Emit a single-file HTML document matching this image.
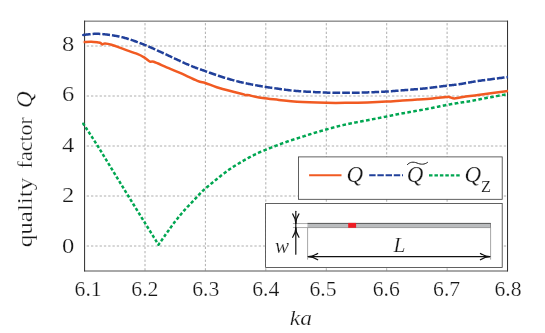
<!DOCTYPE html>
<html><head><meta charset="utf-8"><title>Q</title>
<style>
html,body{margin:0;padding:0;background:#fff;}
svg{display:block;will-change:transform;}
text{font-family:"Liberation Serif",serif;font-size:20.5px;fill:#161616;stroke:#fff;stroke-width:0.24px;}
.it{font-style:italic;}
</style></head><body>
<svg width="545" height="333" viewBox="0 0 545 333">
<rect width="545" height="333" fill="#fff"/>
<g stroke="#999" stroke-width="0.8" stroke-dasharray="2.3,2.0" stroke-dashoffset="2.2" fill="none"><line x1="145.0" y1="21.0" x2="145.0" y2="271.0"/><line x1="205.4" y1="21.0" x2="205.4" y2="271.0"/><line x1="265.8" y1="21.0" x2="265.8" y2="271.0"/><line x1="326.3" y1="21.0" x2="326.3" y2="271.0"/><line x1="386.7" y1="21.0" x2="386.7" y2="271.0"/><line x1="447.1" y1="21.0" x2="447.1" y2="271.0"/><line x1="84.6" y1="46.0" x2="507.5" y2="46.0"/><line x1="84.6" y1="96.0" x2="507.5" y2="96.0"/><line x1="84.6" y1="146.0" x2="507.5" y2="146.0"/><line x1="84.6" y1="196.0" x2="507.5" y2="196.0"/><line x1="84.6" y1="246.0" x2="507.5" y2="246.0"/></g>
<!-- frame -->
<line x1="84.1" y1="21.15" x2="508" y2="21.15" stroke="#333" stroke-width="0.8"/>
<line x1="84.1" y1="271" x2="508" y2="271" stroke="#333" stroke-width="0.85"/>
<line x1="84.6" y1="20.7" x2="84.6" y2="271.4" stroke="#2a2a2a" stroke-width="1"/>
<line x1="507.55" y1="20.7" x2="507.55" y2="271.4" stroke="#2a2a2a" stroke-width="1"/>
<g fill="none" stroke-linejoin="round">
<path d="M83.80,124.50L83.81,124.51L83.79,124.49L83.77,124.45L83.73,124.40L83.69,124.33L83.63,124.25L83.58,124.16L83.52,124.07L83.46,123.98L83.41,123.90L83.36,123.83L83.32,123.78L83.30,123.74L83.29,123.72L83.29,123.73L83.31,123.76L83.36,123.83L83.43,123.94L83.53,124.09L83.65,124.29L83.81,124.53L84.00,124.83L84.23,125.18L84.50,125.60L84.50,125.60M85.65,127.36L85.95,127.83L86.40,128.51L86.87,129.24L87.37,130.00L87.40,130.04M88.55,131.79L89.01,132.50L89.59,133.39L90.19,134.31L90.30,134.47M91.44,136.23L92.05,137.16L92.68,138.14L93.18,138.91M94.31,140.68L94.60,141.12L95.23,142.11L95.86,143.10L96.04,143.37M97.16,145.14L97.70,146.00L98.30,146.95L98.85,147.84M99.95,149.62L100.13,149.90L100.75,150.91L101.38,151.93L101.63,152.33M102.72,154.11L103.28,155.04L103.93,156.09L104.38,156.83M105.46,158.61L105.87,159.28L106.52,160.35L107.12,161.33M108.20,163.12L108.47,163.57L109.13,164.64L109.78,165.71L109.85,165.84M110.94,167.62L111.07,167.84L111.72,168.90L112.36,169.95L112.60,170.34M113.69,172.12L114.28,173.08L114.91,174.13L115.35,174.84M116.44,176.62L116.83,177.26L117.47,178.30L118.10,179.34M119.19,181.12L119.38,181.44L120.02,182.48L120.66,183.53L120.85,183.84M121.94,185.62L122.57,186.65L123.21,187.70L123.60,188.34M124.69,190.12L125.12,190.82L125.76,191.86L126.36,192.84M127.45,194.62L127.66,194.97L128.30,196.00L128.94,197.03L129.12,197.33M130.22,199.11L130.84,200.13L131.48,201.16L131.89,201.83M132.99,203.60L133.38,204.24L134.02,205.27L134.65,206.30L134.66,206.32M135.76,208.09L135.92,208.35L136.55,209.37L137.19,210.40L137.44,210.80M138.54,212.58L139.08,213.47L139.72,214.49L140.21,215.29M141.32,217.07L141.61,217.55L142.24,218.57L142.87,219.58L142.99,219.78M144.09,221.56L144.14,221.64L144.80,222.71L145.49,223.81L145.77,224.27M146.87,226.05L146.90,226.08L147.62,227.25L148.34,228.42L148.55,228.76M149.65,230.53L149.80,230.77L150.52,231.94L151.24,233.10L151.33,233.24M152.43,235.02L152.64,235.36L153.32,236.45L153.98,237.52L154.12,237.73M155.22,239.51L155.23,239.52L155.81,240.46L156.36,241.35L156.87,242.17L156.90,242.22M158.00,243.99L158.16,244.26L158.50,244.80L158.64,244.60L158.79,244.38L158.96,244.14L159.15,243.87L159.34,243.59L159.55,243.29L159.77,242.97L159.79,242.95M160.99,241.22L161.04,241.14L161.33,240.74L161.61,240.32L161.91,239.90L162.21,239.47L162.52,239.03L162.83,238.58M164.05,236.86L164.14,236.74L164.47,236.27L164.80,235.80L165.14,235.32L165.49,234.83L165.85,234.32L165.91,234.23M167.12,232.51L167.38,232.14L167.78,231.57L168.18,231.00L168.60,230.41L168.98,229.87M170.20,228.15L170.28,228.04L170.71,227.44L171.13,226.85L171.56,226.26L171.99,225.67L172.08,225.54M173.34,223.84L173.68,223.38L174.09,222.84L174.50,222.30L174.91,221.77L175.30,221.26M176.62,219.59L176.94,219.18L177.35,218.67L177.76,218.16L178.17,217.65L178.58,217.15L178.66,217.05M180.02,215.41L180.21,215.17L180.62,214.68L181.03,214.20L181.44,213.71L181.85,213.23L182.12,212.91M183.52,211.29L183.89,210.87L184.30,210.40L184.71,209.94L185.13,209.47L185.55,209.01L185.70,208.84M187.17,207.25L187.25,207.16L187.69,206.70L188.12,206.25L188.55,205.79L188.97,205.34L189.40,204.90L189.44,204.86M190.94,203.30L191.07,203.17L191.48,202.75L191.88,202.33L192.27,201.93L192.65,201.53L193.03,201.13L193.23,200.92M194.71,199.35L194.77,199.28L195.09,198.94L195.41,198.59L195.72,198.26L196.02,197.93L196.32,197.61L196.61,197.29L196.89,196.98L196.94,196.93M198.39,195.34L198.50,195.22L198.76,194.94L199.01,194.67L199.26,194.41L199.50,194.15L199.75,193.89L199.99,193.64L200.23,193.39L200.46,193.14L200.66,192.94M202.19,191.41L202.28,191.32L202.45,191.15L202.62,190.99L202.79,190.83L202.96,190.68L203.13,190.52L203.30,190.36L203.47,190.20L203.65,190.04L203.84,189.87L204.03,189.70L204.23,189.52L204.44,189.34L204.65,189.15M206.32,187.71L206.55,187.52L206.85,187.26L207.17,187.00L207.49,186.73L207.82,186.45L208.16,186.17L208.50,185.89L208.84,185.61L208.91,185.55M210.62,184.15L210.62,184.15L210.98,183.85L211.35,183.56L211.71,183.26L212.07,182.97L212.43,182.67L212.79,182.38L213.15,182.09L213.23,182.02M214.95,180.62L215.29,180.34L215.65,180.04L216.02,179.74L216.38,179.44L216.75,179.14L217.12,178.84L217.49,178.54L217.56,178.48M219.28,177.09L219.34,177.04L219.71,176.74L220.08,176.44L220.45,176.15L220.83,175.85L221.20,175.56L221.56,175.27L221.93,174.98L221.93,174.98M223.69,173.62L223.76,173.57L224.12,173.29L224.49,173.02L224.85,172.74L225.21,172.46L225.57,172.19L225.94,171.91L226.30,171.64L226.40,171.57M228.19,170.24L228.49,170.03L228.86,169.76L229.23,169.50L229.60,169.24L229.97,168.97L230.35,168.72L230.72,168.46L230.99,168.27M232.87,167.03L233.03,166.93L233.42,166.68L233.82,166.43L234.21,166.19L234.61,165.94L235.00,165.69L235.40,165.45L235.80,165.21L235.80,165.21M237.75,164.03L237.78,164.01L238.18,163.78L238.57,163.54L238.96,163.31L239.35,163.08L239.74,162.85L240.12,162.63L240.50,162.40L240.73,162.26M242.69,161.11L242.73,161.09L243.09,160.87L243.46,160.66L243.82,160.45L244.18,160.24L244.54,160.04L244.90,159.83L245.26,159.63L245.62,159.42L245.70,159.38M247.70,158.27L247.81,158.21L248.18,158.01L248.55,157.80L248.92,157.60L249.30,157.40L249.68,157.20L250.07,156.99L250.46,156.79L250.78,156.62M252.82,155.57L252.89,155.54L253.30,155.33L253.70,155.12L254.11,154.92L254.52,154.72L254.92,154.52L255.32,154.32L255.72,154.12L255.96,154.01M258.04,153.01L258.35,152.86L258.70,152.70L259.03,152.55L259.35,152.40L259.66,152.26L259.95,152.13L260.24,152.01L260.52,151.89L260.78,151.77L261.05,151.66L261.27,151.57M263.43,150.70L263.70,150.60L264.00,150.48L264.31,150.36L264.63,150.23L264.97,150.09L265.33,149.95L265.70,149.80L266.09,149.64L266.50,149.48L266.73,149.39M268.89,148.52L269.19,148.40L269.67,148.21L270.16,148.01L270.65,147.82L271.15,147.62L271.65,147.42L272.16,147.22L272.20,147.20M274.37,146.35L274.68,146.23L275.17,146.04L275.66,145.85L276.15,145.66L276.63,145.48L277.10,145.30L277.57,145.12L277.69,145.08M279.88,144.25L280.31,144.09L280.76,143.92L281.21,143.75L281.67,143.59L282.12,143.42L282.57,143.26L283.02,143.09L283.23,143.02M285.43,142.23L285.76,142.11L286.22,141.95L286.68,141.79L287.15,141.62L287.62,141.46L288.10,141.30L288.58,141.14L288.81,141.06M291.04,140.33L291.48,140.19L291.97,140.03L292.46,139.87L292.95,139.72L293.44,139.56L293.94,139.41L294.43,139.25L294.46,139.24M296.71,138.54L296.94,138.47L297.45,138.31L297.95,138.15L298.46,137.99L298.97,137.83L299.49,137.66L300.00,137.50L300.13,137.46M302.37,136.73L302.59,136.66L303.11,136.49L303.64,136.32L304.16,136.15L304.69,135.98L305.22,135.81L305.75,135.64L305.78,135.62M308.02,134.90L308.43,134.77L308.97,134.60L309.51,134.43L310.05,134.25L310.60,134.08L311.15,133.91L311.44,133.82M313.69,133.13L313.91,133.06L314.48,132.89L315.04,132.72L315.61,132.55L316.18,132.39L316.75,132.22L317.14,132.10M319.41,131.44L319.64,131.38L320.22,131.21L320.80,131.04L321.38,130.87L321.96,130.71L322.54,130.54L322.87,130.45M325.14,129.81L325.45,129.72L326.02,129.56L326.60,129.40L327.17,129.24L327.75,129.08L328.32,128.92L328.61,128.84M330.88,128.20L331.17,128.12L331.74,127.96L332.31,127.81L332.88,127.65L333.45,127.49L334.02,127.34L334.36,127.25M336.65,126.64L336.89,126.58L337.47,126.43L338.05,126.28L338.64,126.13L339.22,125.99L339.81,125.84L340.15,125.76M342.46,125.22L342.79,125.15L343.39,125.01L343.99,124.88L344.60,124.74L345.20,124.61L345.81,124.48L346.00,124.44M348.33,123.95L348.87,123.84L349.48,123.71L350.10,123.59L350.71,123.46L351.32,123.34L351.88,123.23M354.22,122.76L354.39,122.72L355.00,122.60L355.61,122.48L356.21,122.36L356.82,122.24L357.42,122.12L357.78,122.05M360.12,121.61L360.41,121.55L361.01,121.44L361.61,121.32L362.21,121.21L362.81,121.10L363.41,120.99L363.69,120.94M366.03,120.50L366.49,120.41L367.12,120.29L367.76,120.17L368.40,120.05L369.05,119.93L369.60,119.82M371.93,119.37L372.43,119.27L373.14,119.13L373.85,119.00L374.57,118.86L375.30,118.71L375.50,118.68M377.84,118.22L378.23,118.14L378.96,118.00L379.70,117.86L380.42,117.72L381.14,117.57L381.40,117.52M383.74,117.07L383.96,117.02L384.64,116.89L385.31,116.76L385.96,116.63L386.60,116.50L387.22,116.38L387.30,116.36M389.63,115.89L389.92,115.83L390.41,115.72L390.90,115.62L391.37,115.52L391.84,115.42L392.32,115.32L392.79,115.22L393.18,115.14M395.51,114.67L395.92,114.59L396.51,114.47L397.14,114.35L397.79,114.22L398.49,114.09L399.07,113.97M401.42,113.54L401.68,113.49L402.59,113.32L403.52,113.15L404.49,112.98L404.99,112.89M407.34,112.47L407.56,112.43L408.63,112.24L409.72,112.05L410.81,111.86L410.92,111.84M413.27,111.43L414.17,111.27L415.29,111.07L416.41,110.87L416.85,110.79M419.19,110.37L419.75,110.27L420.84,110.07L421.91,109.87L422.77,109.72M425.11,109.28L426.00,109.11L427.00,108.92L428.01,108.72L428.68,108.59M431.01,108.13L431.06,108.12L432.07,107.92L433.09,107.71L434.10,107.51L434.57,107.41M436.90,106.94L437.09,106.90L438.06,106.70L439.03,106.50L439.98,106.31L440.46,106.21M442.79,105.74L443.60,105.58L444.45,105.41L445.28,105.25L446.08,105.09L446.35,105.04M448.69,104.60L449.00,104.54L449.65,104.42L450.28,104.30L450.89,104.20L451.47,104.09L452.04,103.99L452.27,103.95M454.62,103.56L455.06,103.49L455.52,103.41L455.97,103.34L456.42,103.27L456.87,103.20L457.31,103.13L457.75,103.06L458.19,102.99L458.21,102.98M460.57,102.61L460.92,102.55L461.38,102.48L461.83,102.42L462.27,102.35L462.71,102.29L463.15,102.22L463.58,102.16L464.01,102.10L464.18,102.07M466.54,101.74L466.90,101.69L467.29,101.63L467.69,101.57L468.08,101.51L468.47,101.45L468.86,101.39L469.24,101.33L469.62,101.26L470.00,101.20L470.14,101.18M472.48,100.73L472.60,100.70L472.81,100.66L473.03,100.61L473.28,100.56L473.55,100.50L473.86,100.43L474.20,100.36L474.59,100.28L475.02,100.20L475.51,100.10L476.03,100.00M478.37,99.55L478.95,99.44L479.92,99.26L481.00,99.05L481.94,98.88M484.28,98.44L484.74,98.35L486.13,98.09L487.56,97.82L487.85,97.77M490.19,97.33L490.53,97.27L492.04,96.98L493.56,96.70L493.76,96.66M496.11,96.22L496.56,96.14L498.02,95.87L499.44,95.60L499.68,95.56M502.02,95.12L502.12,95.10L503.35,94.87L504.49,94.66L505.54,94.46L505.59,94.45M507.93,94.01L508.00,94.00" stroke="#00A651" stroke-width="2.5"/>
<path d="M83.60,42.00 C83.75,42.00 83.22,42.05 84.50,42.00 C85.78,41.95 89.05,41.63 91.30,41.70 C93.55,41.77 96.47,42.20 98.00,42.40 C99.53,42.60 99.78,42.57 100.50,42.90 C101.22,43.23 101.55,44.30 102.30,44.40 C103.05,44.50 103.47,43.43 105.00,43.50 C106.53,43.57 108.27,43.82 111.50,44.80 C114.73,45.78 120.12,47.88 124.40,49.40 C128.68,50.92 133.85,52.53 137.20,53.90 C140.55,55.27 142.37,56.32 144.50,57.60 C146.63,58.88 148.47,60.90 150.00,61.60 C151.53,62.30 150.93,60.85 153.70,61.80 C156.47,62.75 162.22,65.45 166.60,67.30 C170.98,69.15 174.87,70.65 180.00,72.90 C185.13,75.15 193.18,79.12 197.40,80.80 C201.62,82.48 202.08,81.93 205.30,83.00 C208.52,84.07 212.35,85.82 216.70,87.20 C221.05,88.58 227.02,90.15 231.40,91.30 C235.78,92.45 240.70,93.45 243.00,94.10 C245.30,94.75 244.45,95.03 245.20,95.20 C245.95,95.37 244.60,94.62 247.50,95.10 C250.40,95.58 257.35,97.30 262.60,98.10 C267.85,98.90 273.27,99.28 279.00,99.90 C284.73,100.52 289.08,101.32 297.00,101.80 C304.92,102.28 318.05,102.63 326.50,102.80 C334.95,102.97 340.87,102.87 347.70,102.80 C354.53,102.73 361.03,102.60 367.50,102.40 C373.97,102.20 380.67,101.92 386.50,101.60 C392.33,101.28 397.33,100.83 402.50,100.50 C407.67,100.17 412.48,99.93 417.50,99.60 C422.52,99.27 427.83,98.93 432.60,98.50 C437.37,98.07 443.35,97.25 446.10,97.00 C448.85,96.75 447.73,96.77 449.10,97.00 C450.47,97.23 452.48,98.33 454.30,98.40 C456.12,98.47 457.38,97.82 460.00,97.40 C462.62,96.98 466.98,96.30 470.00,95.90 C473.02,95.50 471.77,95.82 478.10,95.00 C484.43,94.18 503.02,91.67 508.00,91.00" stroke="#F15A22" stroke-width="2.5"/>
<path d="M83.60,34.90L83.61,34.90L83.61,34.90L83.59,34.90L83.57,34.90L83.53,34.90L83.49,34.90L83.45,34.91L83.41,34.91L83.37,34.91L83.33,34.91L83.30,34.91L83.28,34.91L83.27,34.91L83.27,34.91L83.29,34.91L83.32,34.90L83.38,34.90L83.45,34.89L83.55,34.88L83.68,34.87L83.84,34.86L84.02,34.84L84.24,34.82L84.50,34.80L84.79,34.77L85.12,34.74L85.48,34.70L85.86,34.66L86.28,34.61L86.72,34.56L87.18,34.50L87.67,34.44L88.17,34.39L88.70,34.33L89.23,34.27L89.79,34.21L90.35,34.15L90.60,34.12M92.59,33.95L92.69,33.94L93.29,33.90L93.88,33.87L94.48,33.84L95.07,33.82L95.65,33.80L96.23,33.80L96.80,33.80L97.37,33.81L97.94,33.83L98.52,33.85L99.11,33.87L99.71,33.91L100.31,33.94L100.32,33.94M102.31,34.09L102.75,34.13L103.38,34.18L104.00,34.24L104.63,34.31L105.25,34.37L105.88,34.45L106.51,34.52L107.14,34.59L107.77,34.67L108.40,34.76L109.02,34.84L109.65,34.93L109.98,34.97M111.95,35.27L112.11,35.29L112.71,35.39L113.31,35.48L113.91,35.58L114.50,35.68L115.09,35.78L115.68,35.88L116.27,35.98L116.85,36.09L117.44,36.20L118.03,36.31L118.63,36.43L119.22,36.55L119.52,36.62M121.45,37.05L121.65,37.10L122.27,37.25L122.90,37.40L123.54,37.57L124.19,37.74L124.85,37.92L125.52,38.10L126.20,38.30L126.89,38.50L127.60,38.72L128.31,38.94L128.79,39.09M130.66,39.69L131.27,39.90L132.03,40.15L132.79,40.41L133.56,40.68L134.34,40.95L135.12,41.23L135.90,41.51L136.69,41.80L137.47,42.09L137.79,42.21M139.62,42.89L139.83,42.98L140.62,43.28L141.40,43.58L142.18,43.88L142.96,44.19L143.73,44.49L144.50,44.80L145.27,45.11L146.03,45.42L146.61,45.66M148.39,46.42L149.12,46.74L149.90,47.07L150.67,47.41L151.45,47.76L152.23,48.11L153.00,48.46L153.78,48.81L154.55,49.16L155.22,49.46M156.97,50.27L157.63,50.57L158.39,50.92L159.15,51.28L159.91,51.63L160.66,51.97L161.41,52.32L162.16,52.66L162.90,53.00L163.64,53.34L163.75,53.39M165.50,54.20L165.88,54.37L166.62,54.72L167.37,55.07L168.11,55.42L168.86,55.77L169.60,56.12L170.33,56.47L171.07,56.82L171.80,57.16L172.24,57.37M173.98,58.20L174.67,58.52L175.37,58.85L176.06,59.17L176.74,59.49L177.41,59.81L178.08,60.12L178.73,60.42L179.37,60.71L180.00,61.00L180.62,61.28L180.74,61.34M182.50,62.14L182.95,62.34L183.51,62.59L184.06,62.84L184.60,63.09L185.13,63.32L185.65,63.56L186.17,63.79L186.69,64.02L187.20,64.24L187.71,64.47L188.21,64.69L188.71,64.90L189.22,65.12L189.33,65.17M191.12,65.92L191.24,65.97L191.76,66.18L192.28,66.39L192.80,66.60L193.32,66.81L193.84,67.01L194.35,67.21L194.85,67.40L195.35,67.59L195.84,67.77L196.34,67.95L196.83,68.13L197.32,68.31L197.81,68.48L198.16,68.61M200.00,69.25L200.30,69.36L200.82,69.54L201.34,69.72L201.87,69.90L202.41,70.09L202.97,70.28L203.53,70.48L204.11,70.68L204.70,70.89L205.30,71.10L205.92,71.32L206.55,71.55L207.14,71.76M208.98,72.42L209.18,72.50L209.87,72.74L210.56,72.99L211.25,73.25L211.96,73.50L212.67,73.76L213.39,74.01L214.11,74.27L214.84,74.53L215.57,74.78L216.09,74.97M217.94,75.60L218.51,75.80L219.25,76.05L219.99,76.29L220.73,76.53L221.47,76.77L222.20,77.00L222.94,77.23L223.68,77.46L224.42,77.69L225.17,77.91M227.05,78.48L227.43,78.59L228.19,78.81L228.96,79.03L229.72,79.25L230.49,79.47L231.26,79.69L232.03,79.90L232.80,80.11L233.57,80.33L234.34,80.53L234.38,80.54M236.30,81.05L236.66,81.14L237.43,81.34L238.20,81.53L238.97,81.73L239.73,81.91L240.50,82.10L241.26,82.28L242.03,82.46L242.80,82.64L243.56,82.81L243.73,82.84M245.67,83.27L245.86,83.31L246.63,83.47L247.40,83.63L248.16,83.79L248.93,83.94L249.70,84.09L250.47,84.24L251.24,84.39L252.00,84.54L252.77,84.69L253.20,84.76M255.15,85.13L255.84,85.25L256.60,85.39L257.37,85.53L258.14,85.66L258.90,85.80L259.66,85.93L260.42,86.07L261.18,86.20L261.94,86.32L262.69,86.45L262.73,86.45M264.69,86.77L264.95,86.81L265.70,86.93L266.46,87.05L267.21,87.17L267.96,87.28L268.72,87.39L269.47,87.51L270.23,87.62L270.99,87.73L271.76,87.84L272.31,87.92M274.29,88.20L274.84,88.28L275.62,88.38L276.41,88.49L277.20,88.60L277.99,88.71L278.77,88.82L279.54,88.92L280.30,89.03L281.06,89.14L281.82,89.25L281.92,89.26M283.90,89.54L284.09,89.56L284.85,89.67L285.62,89.77L286.40,89.88L287.19,89.98L287.99,90.08L288.80,90.18L289.63,90.27L290.47,90.37L291.33,90.47L291.55,90.49M293.54,90.69L294.05,90.74L295.01,90.83L295.99,90.92L297.00,91.00L298.05,91.08L299.15,91.17L300.28,91.25L301.24,91.31M303.24,91.45L303.89,91.49L305.14,91.57L306.42,91.64L307.72,91.72L309.02,91.79L310.34,91.87L310.96,91.90M312.96,92.01L312.99,92.01L314.31,92.07L315.62,92.14L316.92,92.20L318.21,92.26L319.48,92.32L320.69,92.37M322.69,92.45L323.14,92.47L324.30,92.52L325.42,92.56L326.50,92.60L327.54,92.64L328.56,92.67L329.56,92.70L330.42,92.72M332.43,92.76L333.33,92.78L334.23,92.79L335.12,92.80L335.99,92.81L336.85,92.82L337.71,92.82L338.55,92.83L339.39,92.83L340.17,92.83M342.17,92.83L342.69,92.82L343.52,92.82L344.34,92.82L345.17,92.81L346.01,92.81L346.85,92.80L347.70,92.80L348.55,92.80L349.40,92.79L349.91,92.78M351.91,92.76L351.92,92.76L352.76,92.75L353.59,92.74L354.42,92.73L355.25,92.72L356.07,92.70L356.89,92.69L357.71,92.67L358.53,92.65L359.35,92.63L359.65,92.63M361.66,92.57L361.80,92.57L362.61,92.55L363.43,92.53L364.24,92.50L365.05,92.48L365.87,92.45L366.68,92.43L367.50,92.40L368.32,92.37L369.14,92.34L369.39,92.33M371.39,92.26L371.63,92.25L372.47,92.22L373.30,92.18L374.14,92.15L374.97,92.11L375.80,92.08L376.63,92.04L377.46,92.00L378.29,91.96L379.11,91.92L379.12,91.92M381.12,91.82L381.53,91.80L382.33,91.76L383.11,91.72L383.89,91.67L384.66,91.63L385.42,91.59L386.16,91.54L386.90,91.50L387.62,91.46L388.31,91.41L388.84,91.38M390.84,91.24L390.91,91.24L391.52,91.19L392.13,91.15L392.73,91.10L393.32,91.06L393.91,91.01L394.51,90.96L395.10,90.91L395.70,90.86L396.31,90.81L396.93,90.76L397.56,90.71L398.20,90.66L398.55,90.63M400.54,90.46L400.97,90.43L401.72,90.36L402.50,90.30L403.31,90.23L404.13,90.17L404.98,90.10L405.85,90.03L406.74,89.97L407.64,89.90L408.24,89.85M410.24,89.69L410.43,89.68L411.38,89.60L412.34,89.53L413.31,89.45L414.29,89.37L415.27,89.29L416.25,89.21L417.24,89.13L417.94,89.07M419.94,88.89L420.19,88.87L421.16,88.78L422.14,88.69L423.10,88.59L424.05,88.50L425.00,88.40L425.95,88.30L426.91,88.19L427.62,88.11M429.60,87.89L429.88,87.85L430.88,87.73L431.89,87.61L432.90,87.49L433.92,87.36L434.93,87.23L435.93,87.10L436.93,86.98L437.26,86.93M439.24,86.68L439.87,86.59L440.82,86.47L441.75,86.35L442.66,86.23L443.56,86.11L444.42,86.00L445.26,85.89L446.07,85.79L446.85,85.69L446.89,85.69M448.87,85.45L448.97,85.43L449.60,85.36L450.19,85.29L450.75,85.23L451.28,85.17L451.79,85.12L452.28,85.06L452.75,85.01L453.20,84.96L453.64,84.92L454.08,84.87L454.51,84.82L454.95,84.77L455.38,84.72L455.82,84.67L456.27,84.62L456.54,84.58M458.52,84.32L458.80,84.28L459.38,84.19L460.00,84.10L460.64,84.00L461.27,83.90L461.91,83.80L462.55,83.69L463.20,83.57L463.85,83.46L464.51,83.34L465.17,83.22L465.85,83.09L466.11,83.05M468.06,82.69L468.69,82.57L469.43,82.44L470.20,82.30L470.98,82.16L471.79,82.02L472.61,81.88L473.46,81.73L474.33,81.59L475.23,81.44L475.64,81.38M477.61,81.07L478.10,81.00L479.14,80.85L480.27,80.69L481.48,80.52L482.75,80.34L484.07,80.16L485.25,80.00M487.22,79.73L488.30,79.59L489.76,79.39L491.24,79.19L492.71,79.00L494.18,78.81L494.87,78.72M496.85,78.46L497.06,78.43L498.46,78.25L499.81,78.07L501.11,77.90L502.35,77.74L503.52,77.59L504.49,77.46M506.47,77.20L506.52,77.20L507.32,77.09L508.00,77.00" stroke="#21409A" stroke-width="2.5"/>
</g>
<!-- legend -->
<rect x="298.5" y="156.9" width="203.7" height="42.4" fill="#fff" stroke="#3a3a3a" stroke-width="0.8"/>
<line x1="309.1" y1="175.2" x2="341.5" y2="175.2" stroke="#F15A22" stroke-width="2.1"/>
<text class="it" x="346.6" y="182.3" style="font-size:23px">Q</text>
<line x1="369.2" y1="175.2" x2="403.0" y2="175.2" stroke="#21409A" stroke-width="2.1" stroke-dasharray="6.4,1.8"/>
<text class="it" x="406.8" y="182.3" style="font-size:23px">Q</text>
<path d="M407.2,164.9 C409.5,161.9 413.5,161.6 417,163 C421,164.7 424.5,164.7 427.8,162.2" fill="none" stroke="#1a1a1a" stroke-width="1"/>
<line x1="429.0" y1="175.3" x2="460.3" y2="175.3" stroke="#00A651" stroke-width="2.15" stroke-dasharray="3.5,1.94"/>
<text class="it" x="464.6" y="182.3" style="font-size:23px">Q</text>
<text x="481" y="191.9" style="font-size:16.4px;stroke-width:0.15px">Z</text>
<!-- inset -->
<rect x="265.6" y="203.4" width="236.6" height="64" fill="#fff" stroke="#3a3a3a" stroke-width="0.8"/>
<g stroke="#5a5a5a" stroke-width="0.5" fill="none">
<line x1="292.9" y1="223.55" x2="307.6" y2="223.55"/><line x1="292.9" y1="227.55" x2="307.6" y2="227.55"/>
<line x1="307.6" y1="227.5" x2="307.6" y2="259.6" stroke="#6a6a6a" stroke-width="0.6"/><line x1="490.6" y1="227.5" x2="490.6" y2="259.6" stroke="#6a6a6a" stroke-width="0.6"/>
</g>
<rect x="307.4" y="223.0" width="183.2" height="4.7" fill="#babcbe"/>
<line x1="490.5" y1="223" x2="490.5" y2="227.7" stroke="#555" stroke-width="0.6"/>
<line x1="307.4" y1="223.4" x2="490.6" y2="223.4" stroke="#4a4a4a" stroke-width="0.9"/>
<line x1="307.4" y1="227.6" x2="490.6" y2="227.6" stroke="#777" stroke-width="0.6"/>
<rect x="348.2" y="222.9" width="7.9" height="4.9" fill="#ed1c24"/>
<g stroke="#111" stroke-width="1.2" fill="none" stroke-linecap="round" stroke-linejoin="round">
<line x1="295.8" y1="211.3" x2="295.8" y2="254.2"/>
<path d="M295.80,223.30 C295.80,220.10 294.50,216.80 292.65,213.90"/><path d="M295.80,223.30 C295.80,220.10 297.10,216.80 298.95,213.90"/>
<path d="M295.80,227.90 C295.80,231.10 297.10,234.40 298.95,237.30"/><path d="M295.80,227.90 C295.80,231.10 294.50,234.40 292.65,237.30"/>
<line x1="308.8" y1="256.6" x2="489.3" y2="256.6"/>
<path d="M308.30,256.60 C311.50,256.60 314.80,255.30 317.70,253.45"/><path d="M308.30,256.60 C311.50,256.60 314.80,257.90 317.70,259.75"/>
<path d="M489.80,256.60 C486.60,256.60 483.30,257.90 480.40,259.75"/><path d="M489.80,256.60 C486.60,256.60 483.30,255.30 480.40,253.45"/>
</g>
<text class="it" x="275" y="252.6" style="font-size:21px">w</text>
<text class="it" x="393.5" y="251.7" style="font-size:21.5px">L</text>
<!-- labels -->
<text transform="translate(88.1,296) scale(1.06,1)" text-anchor="middle">6.1</text><text transform="translate(144.9,296) scale(1.06,1)" text-anchor="middle">6.2</text><text transform="translate(205.7,296) scale(1.06,1)" text-anchor="middle">6.3</text><text transform="translate(265.8,296) scale(1.06,1)" text-anchor="middle">6.4</text><text transform="translate(323,296) scale(1.06,1)" text-anchor="middle">6.5</text><text transform="translate(386.3,296) scale(1.06,1)" text-anchor="middle">6.6</text><text transform="translate(446.6,296) scale(1.06,1)" text-anchor="middle">6.7</text><text transform="translate(508,296) scale(1.06,1)" text-anchor="middle">6.8</text>
<text transform="translate(74.2,50.6) scale(1.2,1)" text-anchor="end">8</text><text transform="translate(74.2,101.0) scale(1.2,1)" text-anchor="end">6</text><text transform="translate(74.2,151.7) scale(1.2,1)" text-anchor="end">4</text><text transform="translate(74.2,202.4) scale(1.2,1)" text-anchor="end">2</text><text transform="translate(74.2,253.0) scale(1.2,1)" text-anchor="end">0</text>
<text class="it" transform="translate(300.8,325.3) scale(1.12,1)" text-anchor="middle" style="font-size:21px">ka</text>
<text transform="translate(32.2,247.3) rotate(-90)" textLength="69.6" lengthAdjust="spacingAndGlyphs">quality</text>
<text transform="translate(32.2,168.4) rotate(-90)" textLength="51.2" lengthAdjust="spacingAndGlyphs">factor</text>
<text class="it" transform="translate(32.3,108.0) rotate(-90)" style="font-size:23px">Q</text>
</svg>
</body></html>
